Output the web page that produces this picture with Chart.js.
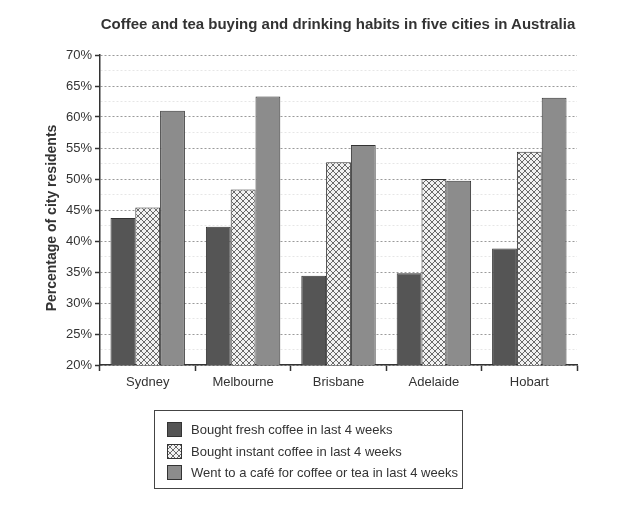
<!DOCTYPE html>
<html>
<head>
<meta charset="utf-8">
<script src="https://cdn.jsdelivr.net/npm/chart.js@4"></script>
<style>
  body { margin: 0; background: #fff; }
  #wrap { position: relative; width: 640px; height: 512px; font-family: "Liberation Sans", Arial, sans-serif; color: #333; }
  #title { position: absolute; left: 38px; width: 600px; top: 15px; text-align: center; font-weight: bold; font-size: 15px; }
  #ytitle { position: absolute; left: 51px; top: 218px; width: 240px; margin-left: -120px; margin-top: -9px; height: 18px; line-height: 18px;
            text-align: center; font-weight: bold; font-size: 14px; transform: rotate(-90deg); white-space: nowrap; }
  #legend { position: absolute; left: 154px; top: 410px; width: 309px; height: 79px; box-sizing: border-box;
            border: 1px solid #444; padding-top: 8px; font-size: 13px; }
  .item { height: 21.5px; display: flex; align-items: center; padding-left: 12px; }
  .item canvas { width: 15px; height: 15px; margin-right: 9px; }
</style>
</head>
<body>
<div id="wrap">
  <canvas id="chart" width="640" height="512"></canvas>
  <div id="title">Coffee and tea buying and drinking habits in five cities in Australia</div>
  <div id="ytitle">Percentage of city residents</div>
  <div id="legend"></div>
</div>
<script>
// data
const cities = ['Sydney', 'Melbourne', 'Brisbane', 'Adelaide', 'Hobart'];
const seriesNames = [
  'Bought fresh coffee in last 4 weeks',
  'Bought instant coffee in last 4 weeks',
  'Went to a café for coffee or tea in last 4 weeks'
];
const freshCoffee = [43.7, 42.3, 34.4, 34.8, 38.8];
const instantCoffee = [45.4, 48.3, 52.7, 50.0, 54.4];
const cafe = [61.0, 63.3, 55.5, 49.7, 63.1];
const yMin = 20, yMax = 70, yStep = 5;

// cross hatch fill for the instant coffee bars
function makeHatch() {
  const c = document.createElement('canvas');
  c.width = 6; c.height = 6;
  const g = c.getContext('2d');
  g.fillStyle = '#f2f2f2';
  g.fillRect(0, 0, 6, 6);
  g.strokeStyle = '#6a6a6a';
  g.lineWidth = 1;
  g.beginPath();
  g.moveTo(0, 0); g.lineTo(6, 6);
  g.moveTo(6, 0); g.lineTo(0, 6);
  g.stroke();
  return c;
}
const hatchTile = makeHatch();
const hatch = document.getElementById('chart').getContext('2d').createPattern(hatchTile, 'repeat');

const fills = ['#555555', hatch, '#8c8c8c'];
const values = [freshCoffee, instantCoffee, cafe];

Chart.defaults.font.family = '"Liberation Sans", Arial, sans-serif';
Chart.defaults.color = '#333';

const chart = new Chart(document.getElementById('chart'), {
  type: 'bar',
  data: {
    labels: cities,
    datasets: seriesNames.map((name, i) => ({
      label: name,
      data: values[i],
      backgroundColor: fills[i],
      borderColor: '#333',
      borderWidth: 1,
      categoryPercentage: 0.78,
      barPercentage: 1
    }))
  },
  options: {
    responsive: false,
    animation: false,
    layout: { padding: { left: 36, right: 63, top: 55, bottom: 117 } },
    plugins: { legend: { display: false }, tooltip: { enabled: false } },
    scales: {
      x: {
        grid: { drawOnChartArea: false, drawTicks: true, tickLength: 6, tickColor: '#333', tickWidth: 1.5, offset: true },
        border: { color: '#333', width: 1.5 },
        ticks: { font: { size: 13 }, padding: 4, color: '#333' },
        afterFit: s => { s.height = 30; }
      },
      y: {
        min: yMin,
        max: yMax,
        ticks: {
          stepSize: yStep / 2,
          autoSkip: false,
          font: { size: 13 },
          padding: 3,
          color: '#333',
          callback: v => (v % yStep === 0 ? v + '%' : '')
        },
        grid: {
          color: c => (c.tick && c.tick.value % yStep === 0 ? '#9a9a9a' : '#e6e6e6'),
          tickColor: c => (c.tick && c.tick.value % yStep === 0 ? '#333' : 'rgba(0,0,0,0)'),
          tickLength: 5,
          tickWidth: 1.5,
          tickBorderDash: []
        },
        border: { color: '#333', width: 1.5, dash: [2, 2] },
        afterFit: s => { s.width = 64; }
      }
    }
  }
});

// legend built from the same datasets
const legend = document.getElementById('legend');
seriesNames.forEach((name, i) => {
  const row = document.createElement('div');
  row.className = 'item';
  const sw = document.createElement('canvas');
  sw.width = 15; sw.height = 15;
  const g = sw.getContext('2d');
  g.fillStyle = i === 1 ? g.createPattern(hatchTile, 'repeat') : fills[i];
  g.fillRect(0, 0, 15, 15);
  g.strokeStyle = '#333';
  g.strokeRect(0.5, 0.5, 14, 14);
  const span = document.createElement('span');
  span.textContent = name;
  row.appendChild(sw);
  row.appendChild(span);
  legend.appendChild(row);
});
</script>
</body>
</html>
